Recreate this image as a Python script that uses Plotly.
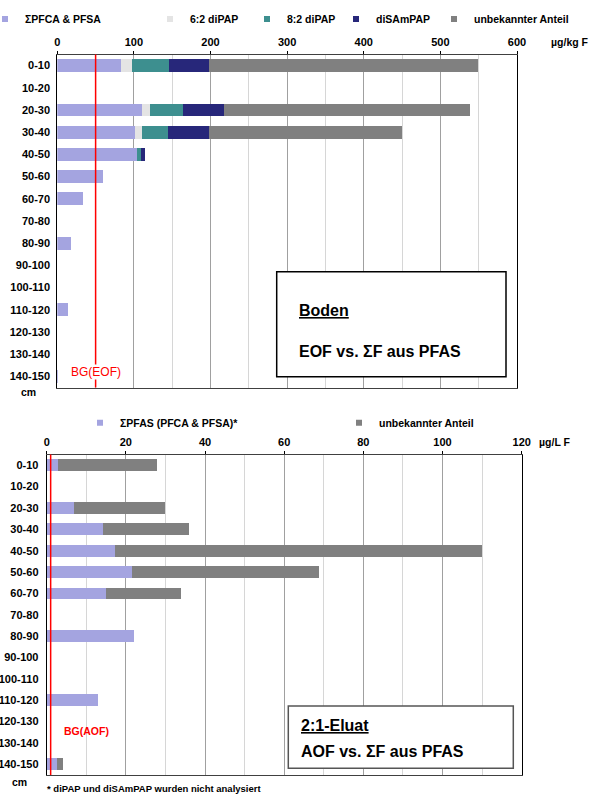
import plotly.graph_objects as go

W, H = 589, 795

DEPTHS = ["0-10", "10-20", "20-30", "30-40", "40-50", "50-60", "60-70", "70-80",
          "80-90", "90-100", "100-110", "110-120", "120-130", "130-140", "140-150"]

# Boden (µg/kg F)
PFCA_PFSA = [83, None, 110, 102, 104, 60, 33, None, 18, None, None, 14, None, None, 1]
DIPAP_62 = [14, None, 11, 8, 0, None, None, None, None, None, None, None, None, None, None]
DIPAP_82 = [49, None, 43, 35, 5, None, None, None, None, None, None, None, None, None, None]
DISAMPAP = [52, None, 53, 53, 6, None, None, None, None, None, None, None, None, None, None]
UNKNOWN_SOIL = [351, None, 322, 252, None, None, None, None, None, None, None, None, None, None, None]
BG_EOF = 50

# 2:1-Eluat (µg/L F)
PFAS_ELUAT = [2.8, None, 6.9, 14.3, 17.3, 21.5, 15.0, None, 22.0, None, None, 13.0, None, None, 2.7]
UNKNOWN_ELUAT = [25.1, None, 23.0, 21.7, 92.6, 47.4, 18.9, None, None, None, None, None, None, None, 1.5]
BG_AOF = 1.0

SOIL_TICKS = [0, 100, 200, 300, 400, 500, 600]
ELUAT_TICKS = [0, 20, 40, 60, 80, 100, 120]

C_PFCA = "#A4A4E0"
C_62 = "#E4E4E4"
C_82 = "#3D8F8F"
C_DIS = "#27277A"
C_UNK = "#808080"

FONT = "Liberation Sans, Arial, sans-serif"


def px_x(p):
    return p / W


def px_y(p):
    return 1 - p / H


fig = go.Figure()

soil_series = [
    ("ΣPFCA & PFSA", PFCA_PFSA, C_PFCA, 25),
    ("6:2 diPAP", DIPAP_62, C_62, 190),
    ("8:2 diPAP", DIPAP_82, C_82, 287),
    ("diSAmPAP", DISAMPAP, C_DIS, 376),
    ("unbekannter Anteil", UNKNOWN_SOIL, C_UNK, 474),
]
eluat_series = [
    ("ΣPFAS (PFCA & PFSA)*", PFAS_ELUAT, C_PFCA, 120),
    ("unbekannter Anteil", UNKNOWN_ELUAT, C_UNK, 379),
]

legend_layouts = {}
li = 1
for name, vals, col, tx in soil_series:
    fig.add_trace(go.Bar(y=DEPTHS, x=vals, orientation="h", marker=dict(color=col, line=dict(width=0)),
                         width=0.57, showlegend=False, xaxis="x", yaxis="y", name=name))
    lname = "legend" if li == 1 else f"legend{li}"
    fig.add_trace(go.Scatter(x=[None], y=[None], mode="markers", name=name,
                             marker=dict(symbol="square", size=6, color=col),
                             legend=lname, xaxis="x", yaxis="y", showlegend=True))
    legend_layouts[lname] = dict(x=px_x(tx - 40), y=px_y(19), xanchor="left", yanchor="middle",
                                 bgcolor="rgba(0,0,0,0)", font=dict(family=FONT, size=10.5, color="#000", weight="bold"))
    li += 1

for name, vals, col, tx in eluat_series:
    fig.add_trace(go.Bar(y=DEPTHS, x=vals, orientation="h", marker=dict(color=col, line=dict(width=0)),
                         width=0.55, showlegend=False, xaxis="x2", yaxis="y2", name=name))
    lname = f"legend{li}"
    fig.add_trace(go.Scatter(x=[None], y=[None], mode="markers", name=name,
                             marker=dict(symbol="square", size=6, color=col),
                             legend=lname, xaxis="x2", yaxis="y2", showlegend=True))
    legend_layouts[lname] = dict(x=px_x(tx - 40), y=px_y(422.7), xanchor="left", yanchor="middle",
                                 bgcolor="rgba(0,0,0,0)", font=dict(family=FONT, size=10.5, color="#000", weight="bold"))
    li += 1

tickfont = dict(family=FONT, size=11, color="#000", weight="bold")

fig.update_layout(
    template="none",
    width=W, height=H, margin=dict(l=0, r=0, t=0, b=0, autoexpand=False),
    paper_bgcolor="white", plot_bgcolor="white",
    barmode="stack", bargap=0.43,
    xaxis=dict(domain=[px_x(57.3), px_x(517)], range=[0, 600], side="top",
               tickvals=SOIL_TICKS, ticktext=[str(v) for v in SOIL_TICKS],
               showgrid=True, gridcolor="#A0A0A0", gridwidth=1,
               minor=dict(dtick=50, tick0=0, showgrid=True, gridcolor="#D6D6D6", gridwidth=1),
               showline=True, linecolor="#404040", linewidth=1, mirror=True,
               ticks="outside", ticklen=3, tickcolor="#000", automargin=False,
               tickfont=tickfont, zeroline=False, anchor="y"),
    yaxis=dict(domain=[px_y(387.5), px_y(54.5)], autorange="reversed", type="category",
               categoryorder="array", categoryarray=DEPTHS, automargin=False,
               showline=True, linecolor="#000", linewidth=1, mirror=True,
               ticks="", tickfont=tickfont, ticklabelstandoff=4, showgrid=False, zeroline=False, anchor="x"),
    xaxis2=dict(domain=[px_x(46.7), px_x(521.7)], range=[0, 120], side="top",
                tickvals=ELUAT_TICKS, ticktext=[str(v) for v in ELUAT_TICKS],
                showgrid=True, gridcolor="#A0A0A0", gridwidth=1,
                minor=dict(dtick=10, tick0=0, showgrid=True, gridcolor="#D6D6D6", gridwidth=1),
                showline=True, linecolor="#404040", linewidth=1, mirror=True,
                ticks="outside", ticklen=3, tickcolor="#000", automargin=False,
                tickfont=tickfont, zeroline=False, anchor="y2"),
    yaxis2=dict(domain=[px_y(775), px_y(454.5)], autorange="reversed", type="category",
                categoryorder="array", categoryarray=DEPTHS, automargin=False,
                showline=True, linecolor="#000", linewidth=1, mirror=True,
                ticks="", tickfont=tickfont, ticklabelstandoff=5, showgrid=False, zeroline=False, anchor="x2"),
    **legend_layouts,
)

# BG lines
fig.add_shape(type="line", xref="x", yref="y domain", x0=BG_EOF, x1=BG_EOF, y0=0, y1=1,
              line=dict(color="#FF0000", width=1.5))
fig.add_shape(type="line", xref="x2", yref="y2 domain", x0=BG_AOF, x1=BG_AOF, y0=0, y1=1,
              line=dict(color="#FF0000", width=1.5))

annos = []
annos.append(dict(x=BG_EOF, xref="x", y=px_y(372), yref="paper", text="BG(EOF)", showarrow=False,
                  font=dict(family=FONT, size=12, color="#FF0000"), bgcolor="white",
                  xanchor="center", yanchor="middle", borderpad=0))
annos.append(dict(x=px_x(86), xref="paper", y=px_y(730.5), yref="paper", text="BG(AOF)", showarrow=False,
                  font=dict(family=FONT, size=10.5, color="#FF0000", weight="bold"),
                  xanchor="center", yanchor="middle"))
# units
annos.append(dict(x=px_x(549), y=px_y(42), xref="paper", yref="paper", text="µg/kg F", showarrow=False,
                  font=dict(family=FONT, size=10.5, color="#000", weight="bold"), xanchor="left", yanchor="middle"))
annos.append(dict(x=px_x(537), y=px_y(442), xref="paper", yref="paper", text="µg/L F", showarrow=False,
                  font=dict(family=FONT, size=10.5, color="#000", weight="bold"), xanchor="left", yanchor="middle"))
# cm
annos.append(dict(x=px_x(28), y=px_y(392), xref="paper", yref="paper", text="cm", showarrow=False,
                  font=dict(family=FONT, size=10.5, color="#000", weight="bold"), xanchor="center", yanchor="middle"))
annos.append(dict(x=px_x(19), y=px_y(782), xref="paper", yref="paper", text="cm", showarrow=False,
                  font=dict(family=FONT, size=10.5, color="#000", weight="bold"), xanchor="center", yanchor="middle"))
# footnote
annos.append(dict(x=px_x(45), y=px_y(788), xref="paper", yref="paper",
                  text="* diPAP und diSAmPAP wurden nicht analysiert", showarrow=False,
                  font=dict(family=FONT, size=9.5, color="#000", weight="bold"), xanchor="left", yanchor="middle"))

# text boxes
fig.add_shape(type="rect", xref="paper", yref="paper", x0=px_x(276.7), x1=px_x(506), y0=px_y(376.7), y1=px_y(271.7),
              line=dict(color="#000", width=1.5), fillcolor="white")
annos.append(dict(x=px_x(297), y=px_y(310), xref="paper", yref="paper", text="<u>Boden</u>", showarrow=False,
                  font=dict(family=FONT, size=16, color="#000", weight="bold"), xanchor="left", yanchor="middle"))
annos.append(dict(x=px_x(297), y=px_y(351), xref="paper", yref="paper", text="EOF vs. ΣF aus PFAS", showarrow=False,
                  font=dict(family=FONT, size=16, color="#000", weight="bold"), xanchor="left", yanchor="middle"))

fig.add_shape(type="rect", xref="paper", yref="paper", x0=px_x(288.3), x1=px_x(513.3), y0=px_y(768.3), y1=px_y(706),
              line=dict(color="#555555", width=1.5), fillcolor="white")
annos.append(dict(x=px_x(299), y=px_y(725), xref="paper", yref="paper", text="<u>2:1-Eluat</u>", showarrow=False,
                  font=dict(family=FONT, size=16, color="#000", weight="bold"), xanchor="left", yanchor="middle"))
annos.append(dict(x=px_x(299), y=px_y(751), xref="paper", yref="paper", text="AOF vs. ΣF aus PFAS", showarrow=False,
                  font=dict(family=FONT, size=16, color="#000", weight="bold"), xanchor="left", yanchor="middle"))

fig.update_layout(annotations=annos)

fig.write_html("out.html", config={"displayModeBar": False},
               post_script="document.body.style.margin='0px';document.body.style.padding='0px';")
